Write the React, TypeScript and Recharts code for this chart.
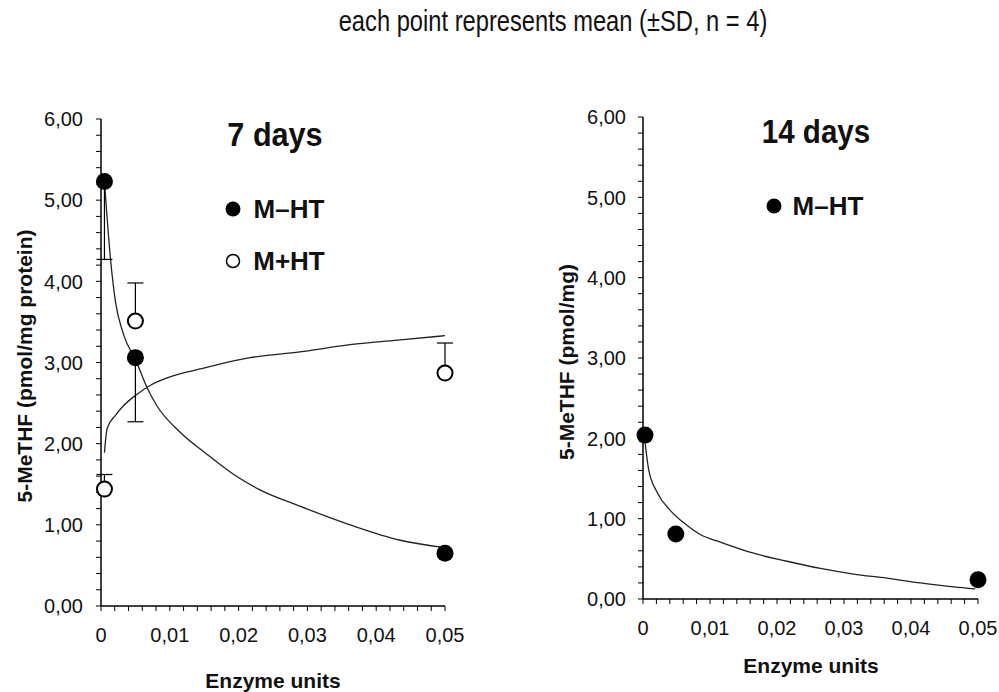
import React from "react";
import { ComposedChart, ErrorBar, Line, Scatter, XAxis, YAxis } from "recharts";

const FONT = '"Liberation Sans", Arial, Helvetica, sans-serif';

const X_MAJOR = [0, 0.01, 0.02, 0.03, 0.04, 0.05];
const X_LABELS = ["0", "0,01", "0,02", "0,03", "0,04", "0,05"];
const X_TICKS = [
  0, 0.002, 0.004, 0.006, 0.008, 0.01, 0.012, 0.014, 0.016, 0.018, 0.02, 0.022, 0.024,
  0.026, 0.028, 0.03, 0.032, 0.034, 0.036, 0.038, 0.04, 0.042, 0.044, 0.046, 0.048, 0.05,
];
const Y_MAJOR = [0, 1, 2, 3, 4, 5, 6];
const Y_LABELS = ["0,00", "1,00", "2,00", "3,00", "4,00", "5,00", "6,00"];
const Y_TICKS = [
  0, 0.2, 0.4, 0.6, 0.8, 1, 1.2, 1.4, 1.6, 1.8, 2, 2.2, 2.4, 2.6, 2.8, 3, 3.2, 3.4, 3.6,
  3.8, 4, 4.2, 4.4, 4.6, 4.8, 5, 5.2, 5.4, 5.6, 5.8, 6,
];

// 7 days, measured points; err = [below, above]
const d7Minus = [
  { x: 0.0005, y: 5.23, err: [0.96, 0] },
  { x: 0.005, y: 3.06, err: [0.79, 0] },
  { x: 0.05, y: 0.65, err: [0, 0] },
];
const d7Plus = [
  { x: 0.0005, y: 1.44, err: [0, 0.18] },
  { x: 0.005, y: 3.51, err: [0, 0.47] },
  { x: 0.05, y: 2.87, err: [0, 0.37] },
];
// fitted curves
const d7MinusFit = [
  { x: 0.0005, y: 5.23 }, { x: 0.0014, y: 4.26 }, { x: 0.0021, y: 3.75 }, { x: 0.0033, y: 3.34 },
  { x: 0.0051, y: 3.02 }, { x: 0.0067, y: 2.69 }, { x: 0.0081, y: 2.47 }, { x: 0.0115, y: 2.14 },
  { x: 0.0154, y: 1.87 }, { x: 0.0193, y: 1.62 }, { x: 0.0231, y: 1.43 }, { x: 0.0289, y: 1.23 },
  { x: 0.0362, y: 1.0 }, { x: 0.0435, y: 0.81 }, { x: 0.05, y: 0.72 },
];
const d7PlusFit = [
  { x: 0.0005, y: 1.89 }, { x: 0.0009, y: 2.19 }, { x: 0.0021, y: 2.35 }, { x: 0.0033, y: 2.47 },
  { x: 0.0051, y: 2.6 }, { x: 0.0072, y: 2.72 }, { x: 0.0096, y: 2.81 }, { x: 0.0144, y: 2.92 },
  { x: 0.0217, y: 3.06 }, { x: 0.0289, y: 3.13 }, { x: 0.0362, y: 3.22 }, { x: 0.0435, y: 3.28 },
  { x: 0.05, y: 3.33 },
];

// 14 days
const d14Minus = [
  { x: 0.0003, y: 2.04 },
  { x: 0.0049, y: 0.81 },
  { x: 0.05, y: 0.24 },
];
const d14MinusFit = [
  { x: 0.0002, y: 2.03 }, { x: 0.00085, y: 1.61 }, { x: 0.0021, y: 1.33 }, { x: 0.0041, y: 1.1 },
  { x: 0.0066, y: 0.915 }, { x: 0.0086, y: 0.8 }, { x: 0.0115, y: 0.71 }, { x: 0.0165, y: 0.57 },
  { x: 0.0215, y: 0.47 }, { x: 0.0265, y: 0.38 }, { x: 0.0314, y: 0.31 }, { x: 0.0364, y: 0.26 },
  { x: 0.0414, y: 0.2 }, { x: 0.0464, y: 0.15 }, { x: 0.0496, y: 0.125 },
];

function YTick({ x, y, payload }: any) {
  const i = Y_MAJOR.indexOf(payload.value);
  if (i < 0) return <g />;
  return (
    <text x={x} y={y} dy="0.36em" textAnchor="end" fontSize={20} fontFamily={FONT} fill="#111">
      {Y_LABELS[i]}
    </text>
  );
}

function XTick({ x, y, payload }: any) {
  const i = X_MAJOR.indexOf(payload.value);
  if (i < 0) return <g />;
  return (
    <text x={x} y={y} dy="0.71em" textAnchor="middle" fontSize={20} fontFamily={FONT} fill="#111">
      {X_LABELS[i]}
    </text>
  );
}

const filledDot = (p: any) => <circle cx={p.cx} cy={p.cy} r={8.5} fill="#000" />;
const openDot = (p: any) => (
  <circle cx={p.cx} cy={p.cy} r={7.5} fill="#fff" stroke="#000" strokeWidth={2} />
);
const noDot = () => <g />;

function Axes({ yWidth, yMargin }: { yWidth: number; yMargin: number }) {
  return (
    <>
      <XAxis
        type="number"
        dataKey="x"
        domain={[0, 0.05]}
        ticks={X_TICKS}
        interval={0}
        height={40}
        tickSize={5}
        tickMargin={17}
        tick={XTick}
        axisLine={{ stroke: "#000", strokeWidth: 1.5 }}
        tickLine={{ stroke: "#000" }}
      />
      <YAxis
        type="number"
        dataKey="y"
        domain={[0, 6]}
        ticks={Y_TICKS}
        interval={0}
        width={yWidth}
        tickSize={5}
        tickMargin={yMargin}
        tick={YTick}
        axisLine={{ stroke: "#000", strokeWidth: 1.5 }}
        tickLine={{ stroke: "#000" }}
      />
    </>
  );
}

function Txt({
  left,
  top,
  size,
  bold,
  sx = 1,
  rotate = 0,
  children,
}: {
  left: number;
  top: number;
  size: number;
  bold?: boolean;
  sx?: number;
  rotate?: number;
  children: React.ReactNode;
}) {
  return (
    <div
      style={{
        position: "absolute",
        left,
        top,
        fontFamily: FONT,
        fontSize: size,
        fontWeight: bold ? 700 : 400,
        lineHeight: 1,
        whiteSpace: "nowrap",
        color: "#111",
        transform: `translate(-50%, -50%) rotate(${rotate}deg) scaleX(${sx})`,
      }}
    >
      {children}
    </div>
  );
}

function Marker({ cx, cy, open }: { cx: number; cy: number; open?: boolean }) {
  return (
    <svg style={{ position: "absolute", left: cx - 9, top: cy - 9 }} width={18} height={18}>
      {open ? (
        <circle cx={9} cy={9} r={6.5} fill="#fff" stroke="#000" strokeWidth={1.5} />
      ) : (
        <circle cx={9} cy={9} r={7.5} fill="#000" />
      )}
    </svg>
  );
}

export default function App() {
  return (
    <div style={{ position: "absolute", left: 0, top: 0, width: 999, height: 692, background: "#fff" }}>
      <div style={{ position: "absolute", left: 0, top: 0 }}>
        <ComposedChart width={480} height={692} margin={{ top: 119, right: 35, bottom: 46, left: 0 }}>
          {Axes({ yWidth: 101, yMargin: 13 })}
          <Line data={d7MinusFit} dataKey="y" type="monotone" stroke="#222" strokeWidth={1.3} dot={false} isAnimationActive={false} />
          <Line data={d7PlusFit} dataKey="y" type="monotone" stroke="#222" strokeWidth={1.3} dot={false} isAnimationActive={false} />
          <Scatter data={d7Minus} shape={noDot} isAnimationActive={false}>
            <ErrorBar dataKey="err" direction="y" width={8} stroke="#000" strokeWidth={1.2} isAnimationActive={false} />
          </Scatter>
          <Scatter data={d7Plus} shape={noDot} isAnimationActive={false}>
            <ErrorBar dataKey="err" direction="y" width={8} stroke="#000" strokeWidth={1.2} isAnimationActive={false} />
          </Scatter>
          <Scatter data={d7Minus} shape={filledDot} isAnimationActive={false} />
          <Scatter data={d7Plus} shape={openDot} isAnimationActive={false} />
        </ComposedChart>
      </div>
      <div style={{ position: "absolute", left: 520, top: 0 }}>
        <ComposedChart width={479} height={692} margin={{ top: 117, right: 21, bottom: 53, left: 0 }}>
          {Axes({ yWidth: 123, yMargin: 12 })}
          <Line data={d14MinusFit} dataKey="y" type="monotone" stroke="#222" strokeWidth={1.3} dot={false} isAnimationActive={false} />
          <Scatter data={d14Minus} shape={filledDot} isAnimationActive={false} />
        </ComposedChart>
      </div>

      <Txt left={553} top={21} size={30} sx={0.79}>each point represents mean (±SD, n = 4)</Txt>

      <Txt left={275} top={134} size={34} bold sx={0.9}>7 days</Txt>
      <Marker cx={233} cy={209} />
      <Txt left={289} top={209} size={26} bold>M–HT</Txt>
      <Marker cx={233} cy={261} open />
      <Txt left={289} top={261} size={26} bold>M+HT</Txt>
      <Txt left={24} top={366} size={21} bold rotate={-90}>5-MeTHF (pmol/mg protein)</Txt>
      <Txt left={273} top={680} size={21} bold>Enzyme units</Txt>

      <Txt left={816} top={131} size={34} bold sx={0.87}>14 days</Txt>
      <Marker cx={774} cy={206} />
      <Txt left={828} top={206} size={26} bold>M–HT</Txt>
      <Txt left={566} top={362} size={21} bold rotate={-90}>5-MeTHF (pmol/mg)</Txt>
      <Txt left={811} top={665} size={21} bold>Enzyme units</Txt>
    </div>
  );
}
